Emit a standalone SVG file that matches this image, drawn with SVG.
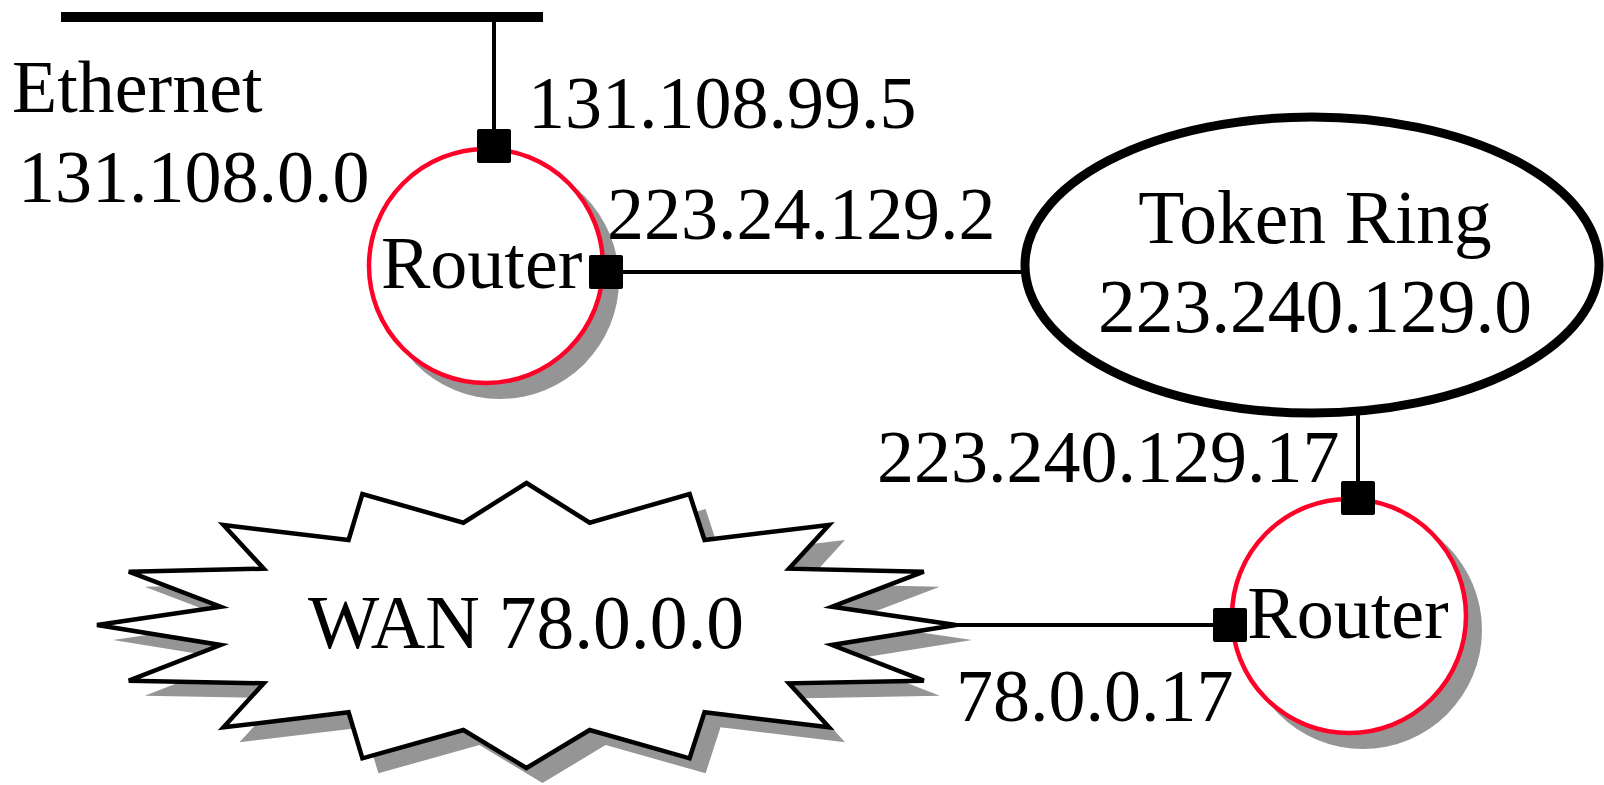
<svg xmlns="http://www.w3.org/2000/svg" width="1604" height="785" viewBox="0 0 1604 785">
<style>
text{font-family:"Liberation Serif","Times New Roman",serif;font-size:74px;fill:#000}
.big{font-size:75.5px}
.mid{text-anchor:middle}
.wire{stroke:#000;stroke-width:4;fill:none}
.shadow{fill:#959595;stroke:none}
.router{fill:#fff;stroke:#FF0028;stroke-width:4.5}
.port{fill:#000;stroke:none}
</style>
<defs>
<polygon id="starShape" points="526.5,483 589.7,522.7 689.6,494 704.5,540 829,525 789,568.7 923.8,571.7 832,606.7 956,625 832,645 923.8,680.7 789,683.3 829,727.3 704.5,712.3 689.6,758.3 589.7,730 526.5,768 463.4,730 362.4,758.3 348.6,712.3 223.5,727.3 263.7,683.3 128.8,680.7 220.6,645 97,625 220.6,606.7 128.8,571.7 263.7,568.7 223.5,525 348.6,540 362.4,494 463.4,522.7"/>
</defs>
<g id="connectors">
<line class="wire" x1="494" y1="17" x2="494" y2="146"/>
<line class="wire" x1="606" y1="272" x2="1022" y2="272"/>
<line class="wire" x1="1358" y1="410" x2="1358" y2="498"/>
<line class="wire" x1="955" y1="625" x2="1230" y2="625"/>
</g>
<g id="ethernet">
<line x1="61" y1="17" x2="543" y2="17" stroke="#000" stroke-width="10"/>
<text x="12" y="112">Ethernet</text>
<text x="18" y="202">131.108.0.0</text>
</g>
<g id="wan">
<use href="#starShape" class="shadow" transform="translate(16,15)"/>
<use href="#starShape" fill="#fff" stroke="#000" stroke-width="4.5" stroke-linejoin="miter"/>
<text class="mid big" x="526" y="648">WAN 78.0.0.0</text>
</g>
<g id="tokenring">
<ellipse cx="1312" cy="265" rx="287" ry="148" fill="#fff" stroke="#000" stroke-width="9"/>
<text class="mid big" x="1315" y="243">Token Ring</text>
<text class="mid big" x="1315" y="332">223.240.129.0</text>
</g>
<g id="router1">
<circle class="shadow" cx="500" cy="280" r="119"/>
<circle class="router" cx="486" cy="266" r="117"/>
<text x="381" y="288">Router</text>
<rect class="port" x="477" y="129" width="34" height="34" rx="2"/>
<rect class="port" x="589" y="255" width="34" height="34" rx="2"/>
</g>
<g id="router2">
<circle class="shadow" cx="1363" cy="630" r="119"/>
<circle class="router" cx="1349" cy="616" r="117"/>
<text class="mid" x="1348" y="638">Router</text>
<rect class="port" x="1341" y="481" width="34" height="34" rx="2"/>
<rect class="port" x="1213" y="608" width="34" height="34" rx="2"/>
</g>
<g id="labels">
<text x="528" y="128">131.108.99.5</text>
<text x="607" y="239">223.24.129.2</text>
<text x="877" y="482">223.240.129.17</text>
<text x="956" y="721">78.0.0.17</text>
</g>
</svg>
